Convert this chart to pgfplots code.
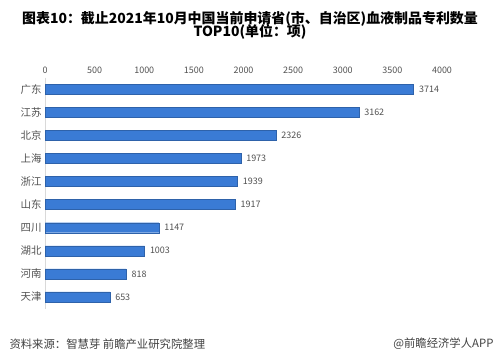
\documentclass[border=0pt]{standalone}
\usepackage{pgfplots}
\pgfplotsset{compat=1.18}
\usepackage{fontspec}
\setmainfont{Noto Sans CJK SC}
\definecolor{barblue}{RGB}{58,123,213}
\definecolor{txtgray}{RGB}{80,80,80}
\begin{document}
\begin{tikzpicture}[x=1bp,y=1bp]
\useasboundingbox (0,0) rectangle (499,363);
\node[font=\fontsize{14}{15}\selectfont\bfseries, align=center, anchor=center] at (250,338) {图表10：截止2021年10月中国当前申请省(市、自治区)血液制品专利数量\\[-3pt]TOP10(单位：项)};
\begin{axis}[
  at={(45bp,285.5bp)}, anchor=north west,
  scale only axis, width=397bp, height=231bp,
  xbar, bar width=10bp,
  xmin=0, xmax=4000,
  ymin=-0.5, ymax=9.5, y dir=reverse,
  ytick={0,...,9},
  yticklabels={广东,江苏,北京,上海,浙江,山东,四川,湖北,河南,天津},
  xtick={0,500,...,4000},
  axis x line*=top, axis y line*=left,
  x axis line style={draw=none},
  y axis line style={draw=black!15, line width=0.8pt},
  major tick length=0pt,
  /pgf/number format/assume math mode=true,
  /pgf/number format/1000 sep={},
  xticklabel style={font=\fontsize{9}{10}\selectfont, text=txtgray},
  yticklabel style={font=\fontsize{10.5}{11}\selectfont, text=txtgray},
  nodes near coords,
  nodes near coords style={font=\fontsize{9}{10}\selectfont, text=txtgray, xshift=2bp},
  enlargelimits=false, clip=false,
]
\addplot[fill=barblue, draw=barblue!80!black, line width=0.3pt] coordinates {
(3714,0) (3162,1) (2326,2) (1973,3) (1939,4) (1917,5) (1147,6) (1003,7) (818,8) (653,9)};
\end{axis}
\node[font=\fontsize{11.4}{12}\selectfont, text=black!75, anchor=west] at (6,19) {资料来源：智慧芽 前瞻产业研究院整理};
\node[font=\fontsize{11.4}{12}\selectfont, text=black!75, anchor=east] at (497,19) {@前瞻经济学人APP};
\end{tikzpicture}
\end{document}
